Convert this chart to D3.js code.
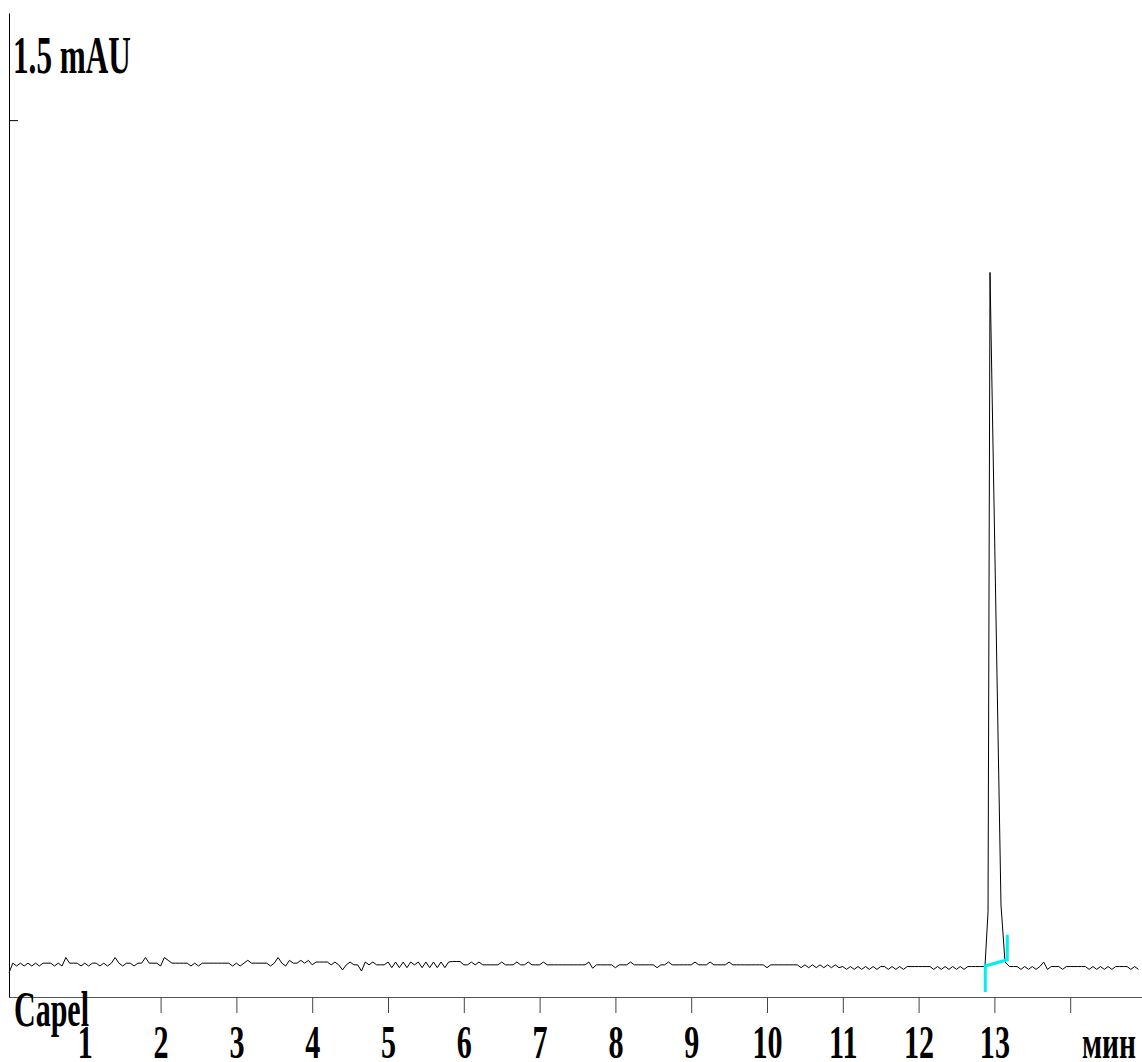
<!DOCTYPE html>
<html><head><meta charset="utf-8">
<script src="https://cdn.jsdelivr.net/npm/d3@7/dist/d3.min.js"></script>
<style>body{margin:0;background:#fff}svg{display:block}</style></head>
<body><svg id="c" width="1142" height="1062"></svg>
<script>
// ---- data ----
const yLabel = "1.5 mAU";
const xUnit = "мин";
const sampleName = "Capel";
const xTicks = [1,2,3,4,5,6,7,8,9,10,11,12,13,14];
const xTickLabels = ["1","2","3","4","5","6","7","8","9","10","11","12","13",""];
const yTicks = [1.5];
const sampleStep = 0.05; // min
// detector signal (mAU), one value every 0.05 min, one row per minute
const signal = [
  -0.012,0.005,0.000,0.005,0.000,0.005,0.000,0.005,0.000,0.005,0.005,0.005,0.000,0.005,0.000,0.015,0.005,0.005,0.005,0.000,
  0.005,0.000,0.005,0.005,0.000,0.005,0.000,0.005,0.015,0.005,0.000,0.005,0.005,0.000,0.005,0.005,0.015,0.005,0.005,0.005,
  0.000,0.015,0.010,0.005,0.005,0.005,0.005,0.005,0.000,0.005,0.000,0.005,0.005,0.005,0.005,0.005,0.005,0.005,0.005,0.000,
  0.005,0.000,0.005,0.010,0.005,0.005,0.005,0.005,0.005,0.000,0.005,0.015,0.005,0.000,0.010,0.005,0.005,0.010,0.005,0.010,
  0.002,0.007,0.007,0.007,0.007,0.002,0.007,0.002,-0.007,0.002,0.007,0.002,0.002,-0.009,0.007,0.002,0.007,0.002,0.002,0.002,
  0.007,-0.003,0.007,-0.003,0.007,-0.003,0.007,0.002,0.007,-0.003,0.007,-0.003,0.007,-0.003,0.007,-0.003,0.007,0.008,0.008,0.008,
  0.002,0.002,0.007,0.002,0.007,0.002,0.002,0.002,0.002,0.002,0.007,0.002,0.002,0.002,0.007,0.002,0.002,0.007,0.002,0.002,
  0.002,0.007,0.002,0.002,0.002,0.002,0.002,0.002,0.002,0.002,0.002,0.002,0.002,0.007,-0.004,0.002,0.002,0.002,0.002,0.002,
  -0.003,0.002,0.002,0.002,0.007,0.002,0.002,0.002,0.002,0.002,0.002,-0.003,0.002,0.002,0.007,0.002,0.002,0.002,0.002,0.002,
  0.002,0.007,0.002,0.002,0.002,0.007,0.002,0.002,0.002,0.002,0.007,0.002,0.002,0.002,0.002,0.002,0.002,0.002,0.002,0.002,
  -0.003,0.002,0.002,0.002,0.002,0.002,0.002,0.002,0.002,-0.003,0.002,-0.003,0.002,-0.003,0.002,-0.003,0.002,-0.003,0.002,-0.003,
  -0.001,-0.006,-0.001,-0.006,-0.001,-0.006,-0.001,-0.006,-0.001,-0.006,-0.001,-0.001,-0.006,-0.001,-0.006,-0.001,-0.006,-0.001,-0.001,-0.001,
  -0.001,-0.001,-0.001,-0.001,-0.006,-0.001,-0.006,-0.001,-0.006,-0.001,-0.006,-0.001,-0.006,-0.001,-0.001,-0.001,-0.001,-0.001,-0.001,-0.001,
  -0.001,-0.001,-0.001,-0.001,-0.001,-0.001,-0.001,-0.006,-0.001,-0.006,-0.001,-0.006,-0.001,0.007,-0.006,-0.001,-0.001,-0.001,-0.006,-0.001,
  -0.001,-0.001,-0.001,-0.001,-0.001,-0.006,-0.001,-0.006,-0.001,-0.006,-0.001,-0.006,-0.001,-0.001,-0.001,-0.001,-0.006,-0.001,-0.006
];
// the peak, sampled at its own points
const peakTimes  = [12.876, 12.916, 12.942, 13.087, 13.140];
const peakValues = [0.000, 0.096, 1.230, 0.108, 0.007];
// integration baseline (start / end of the peak)
const integTimes  = [12.88, 13.17];
const integLevels = [0.000, 0.011];

// ---- drawing ----
const W = 1142, H = 1062;
const svg = d3.select("#c");
const x = d3.scaleLinear().domain([0, 15]).range([9, 1146]);
const y = d3.scaleLinear().domain([-0.055, 1.69]).range([997, 13]);
const FONT = "'Liberation Serif','Times New Roman',serif";

let pts = signal.map((v, i) => [i * sampleStep, v])
  .filter(p => p[0] < 12.87 || p[0] > 13.155);
peakTimes.forEach((t, i) => pts.push([t, peakValues[i]]));
pts.sort((a, b) => a[0] - b[0]);

// axes
const gx = svg.append("g").attr("transform", `translate(0,${y(-0.055)})`)
  .call(d3.axisBottom(x).tickValues(xTicks).tickSize(16).tickSizeOuter(0)
    .tickFormat((d, i) => xTickLabels[i]));
gx.select(".domain").attr("stroke", "#555");
gx.selectAll(".tick line").attr("stroke", "#444");
gx.selectAll(".tick text")
  .attr("y", 61).attr("dy", 0)
  .attr("fill", "#000")
  .attr("font-family", FONT).attr("font-weight", "bold").attr("font-size", 47)
  .attr("transform", "scale(0.64,1)");

const gy = svg.append("g").attr("transform", `translate(${x(0)},0)`)
  .call(d3.axisRight(y).tickValues(yTicks).tickSize(9).tickSizeOuter(0).tickFormat(""));
gy.select(".domain").attr("stroke", "#000");
gy.selectAll(".tick line").attr("stroke", "#000");

// trace
svg.append("path").datum(pts)
  .attr("fill", "none").attr("stroke", "#000").attr("stroke-width", 1)
  .attr("d", d3.line().x(d => x(d[0])).y(d => y(d[1])));

// integration marks
const xs = x(integTimes[0]), ys = y(integLevels[0]);
const xe = x(integTimes[1]), ye = y(integLevels[1]);
svg.append("path")
  .attr("fill", "none").attr("stroke", "#00f0f0").attr("stroke-width", 3)
  .attr("d", `M${xs},${ys + 26}L${xs},${ys}L${xe},${ye}L${xe},${ye - 25}`);

// texts
function label(txt, px, py, size, sx, anchor) {
  svg.append("text").text(txt)
    .attr("x", px / sx).attr("y", py)
    .attr("transform", `scale(${sx},1)`)
    .attr("text-anchor", anchor || "start")
    .attr("font-family", FONT).attr("font-weight", "bold")
    .attr("font-size", size).attr("fill", "#000");
}
label(yLabel, 13, 73, 52, 0.6);
label(sampleName, 14, 1026, 50, 0.6);
label(xUnit, 1136, 1058, 46, 0.64, "end");
</script></body></html>
